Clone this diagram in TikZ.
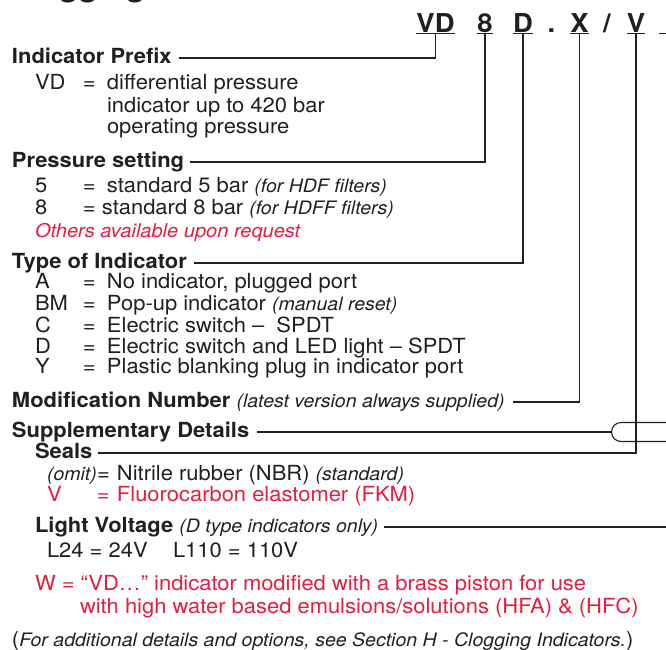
\documentclass[tikz,border=0pt]{standalone}
\usepackage{fontspec}
\setmainfont[FakeStretch=1.055]{TeX Gyre Heros}
\usepackage{xcolor}
\usepackage{tikz}
\usetikzlibrary{positioning}

\definecolor{ink}{RGB}{35,31,32}
\definecolor{alert}{RGB}{230,28,64}
\newcommand{\sidenote}[1]{{\fontsize{18.5}{20}\selectfont\mdseries\itshape #1}}
\newcommand{\optkey}[1]{\makebox[48pt][l]{#1}\makebox[24pt][l]{=}}
\newcommand{\sealkey}[1]{\makebox[50pt][l]{#1}\makebox[20pt][l]{=}}

\begin{document}
\begin{tikzpicture}[
  x=1pt, y=-1pt,
  every node/.style={inner sep=0pt, outer sep=0pt, anchor=base west, text=ink},
  code/.style={font=\fontsize{26}{28}\selectfont\bfseries, anchor=base},
  head/.style={font=\fontsize{20.8}{22}\selectfont\bfseries},
  item/.style={font=\fontsize{20.8}{22}\selectfont},
  warn/.style={item, text=alert},
  lead/.style={draw=ink, line width=1.1pt},
  uline/.style={draw=ink, line width=1.4pt}
]
\useasboundingbox (0,0) rectangle (666,649);
\clip (0,0) rectangle (666,649);

% heading cut by the page edge
\node[font=\fontsize{30}{32}\selectfont\bfseries] (title) at (8,-3.5) {Clogging Indicators};

% order code
\node[code] (cVD) at (435.5,32) {VD};
\node[code] (c8) at (485,32) {8};
\node[code] (cD) at (523,32) {D};
\node[code] (cDot) at (551.5,32) {.};
\node[code] (cX) at (579.5,32) {X};
\node[code] (cSlash) at (607,32) {/};
\node[code] (cV) at (636,32) {V};
\coordinate (cNext) at (659,33.5);
\coordinate (edgeR) at (668,0);
\foreach \c in {cVD,c8,cD,cX,cV}
  \draw[uline] ([yshift=-1.5pt]\c.base west) -- ([yshift=-1.5pt]\c.base east);
\draw[uline] (cNext) -- (cNext -| edgeR);

% indicator prefix
\node[head] (hPrefix) at (12,63) {Indicator Prefix};
\node[item] (kVD) at (35,89) {\optkey{VD}differential pressure};
\node[item] (kVD2) at (107,112) {indicator up to 420 bar};
\node[item] (kVD3) at (107,133) {operating pressure};

% pressure setting
\node[head] (hPress) at (12,167) {Pressure setting};
\node[item] (k5) at (35,192) {\optkey{5}standard 5 bar \sidenote{(for HDF filters)}};
\node[item] (k8) at (35,214) {\makebox[48pt][l]{8}= standard 8 bar \sidenote{(for HDFF filters)}};
\node[warn, font=\fontsize{19}{20}\selectfont\itshape] (kOther) at (35,237) {Others available upon request};

% type of indicator
\node[head] (hType) at (12,268) {Type of Indicator};
\node[item] (kA) at (35,288) {\optkey{A}No indicator, plugged port};
\node[item] (kBM) at (35,310) {\optkey{BM}Pop-up indicator \sidenote{(manual reset)}};
\node[item] (kC) at (35,332) {\optkey{C}Electric switch –\ \ SPDT};
\node[item] (kD) at (35,353) {\optkey{D}Electric switch and LED light – SPDT};
\node[item] (kY) at (35,373) {\optkey{Y}Plastic blanking plug in indicator port};

% modification, supplementary details
\node[head] (hMod) at (12,407) {Modification Number \sidenote{(latest version always supplied)}};
\node[head] (hSupp) at (12,437) {Supplementary Details};
\node[head] (hSeals) at (35,458) {Seals};
\node[item] (kNBR) at (47,480) {\sealkey{\sidenote{(omit)}}Nitrile rubber (NBR) \sidenote{(standard)}};
\node[warn] (kFKM) at (47,501) {\sealkey{V}Fluorocarbon elastomer (FKM)};
\node[head] (hLight) at (35,532) {Light Voltage \sidenote{(D type indicators only)}};
\node[item] (kL24) at (47,557) {L24 = 24V};
\node[item] (kL110) at (173,557) {L110 = 110V};
\node[warn] (kW) at (35,590) {W = “VD…” indicator modified with a brass piston for use};
\node[warn] (kW2) at (80,613) {with high water based emulsions/solutions (HFA) \& (HFC)};
\node[item] (kSee) at (12,646) {(\sidenote{For additional details and options, see Section H - Clogging Indicators.})};

% leader lines
\coordinate (lPrefix) at ([xshift=7pt,yshift=5pt]hPrefix.base east);
\coordinate (lPress) at ([xshift=6pt,yshift=5pt]hPress.base east);
\coordinate (lType) at ([xshift=7pt,yshift=5pt]hType.base east);
\coordinate (lMod) at ([xshift=8pt,yshift=5pt]hMod.base east);
\coordinate (lSupp) at ([xshift=8pt,yshift=5pt]hSupp.base east);
\coordinate (lSeals) at ([xshift=6pt,yshift=5pt]hSeals.base east);
\coordinate (lLight) at ([xshift=6pt,yshift=5pt]hLight.base east);
\draw[lead] (lPrefix) -| ([yshift=-1.5pt]cVD.base);
\draw[lead] (lPress) -| ([yshift=-1.5pt]c8.base);
\draw[lead] (lType) -| ([yshift=-1.5pt]cD.base);
\draw[lead] (lMod) -| ([yshift=-1.5pt]cX.base);
\draw[lead] (lSeals) -| ([yshift=-1.5pt]cV.base);
\draw[lead] (lLight) -- (lLight -| edgeR);

% bracket of the supplementary details
\coordinate (brkX) at (611.5,0);
\coordinate (brkTip) at (lSupp -| brkX);
\coordinate (brkTop) at ([shift={(9.5pt,9.5pt)}]brkTip);
\coordinate (brkBot) at ([shift={(9.5pt,-9.5pt)}]brkTip);
\draw[lead] (lSupp) -- (brkTip);
\draw[lead] (brkTop -| edgeR) -- (brkTop) arc[start angle=270, end angle=90, radius=9.5] -- (brkBot -| edgeR);
\end{tikzpicture}
\end{document}
